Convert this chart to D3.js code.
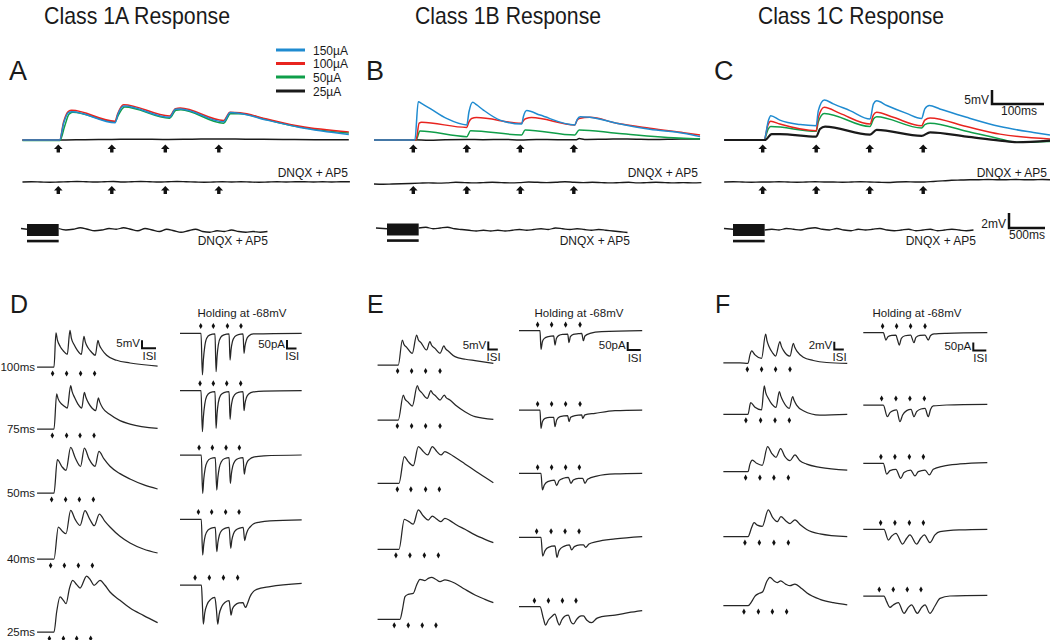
<!DOCTYPE html>
<html><head><meta charset="utf-8">
<script src="https://cdn.jsdelivr.net/npm/d3@7"></script>
<style>body{margin:0;background:#fff} svg{display:block} text{font-family:"Liberation Sans",Arial,Helvetica,sans-serif;fill:#1a1a1a}</style>
</head><body><script>
// ---------------- DATA ----------------
const titles = ["Class 1A Response", "Class 1B Response", "Class 1C Response"];
const topLetters = ["A", "B", "C"];
const bottomLetters = ["D", "E", "F"];
const legendLabels = ["150µA", "100µA", "50µA", "25µA"];
const seriesColors = ["#1f8bd0", "#e8241f", "#0f9e49", "#1a1a1a"];
const rowLabels = ["100ms", "75ms", "50ms", "40ms", "25ms"];
const topStim = [0, 100, 200, 300];          // ms
const trainDur = 440;                         // ms

// top traces: [ms, mV]
const A_150 = [[-67,0],[2.5,0],[10,6],[19,9.8],[25,10.1],[106.5,6.2],[111,8.9],[123,12.1],[208,8.1],[219,11],[228,11.1],[309,6.5],[321.5,9.8],[340,9.5],[390,7.1],[452,4.5],[543,2.0]];
const A_100 = [[-67,0],[2.5,0],[10,6.5],[19,10.2],[25,10.6],[106,6.7],[111,9.4],[122,12.6],[208,8.6],[219,11.2],[228,11.4],[309,7.0],[321,9.9],[340,9.7],[390,7.5],[452,4.9],[543,2.9]];
const A_50 = [[-67,-0.2],[3,-0.2],[12,5],[20,9.2],[27,9.9],[106,6.5],[112,8.8],[124,11.8],[208,7.8],[220,10.6],[229,10.8],[309,6.0],[322,9.4],[340,9.4],[390,7.2],[452,4.6],[543,2.5]];
const A_25 = [[-67,0],[0,0],[50,0.1],[100,0.2],[150,0.3],[200,0.2],[250,0.3],[300,0.4],[350,0.3],[420,0.2],[480,0.1],[543,0.1]];
const B_150 = [[-73.5,0],[3,0],[9.3,13.7],[16,13],[31,11.3],[62,7.7],[100,5.4],[104,10],[111,13.5],[118,12.6],[131,10.7],[162,7.1],[202.5,5.7],[206,8.5],[212,10.5],[237,8.9],[302,5.4],[306,7.2],[312,8.3],[330,8.1],[380,6],[442,3.8],[505,2.4],[536,1.2]];
const B_100 = [[-73.5,0],[5,0],[11,6],[15.5,6.3],[100,4.5],[104,6.5],[109,7.7],[118,8],[202.5,6],[206,7],[211,7.7],[221,8],[302,5.4],[306,7],[310,7.7],[330,8.1],[380,6],[442,4.2],[505,2.6],[536,1.8]];
const B_50 = [[-73.5,0],[5,0],[12.5,3.2],[100,1.2],[107,3.3],[202.5,1.8],[209,3.6],[302,1.8],[310,3.6],[380,2.4],[505,0.6],[536,0.4]];
const B_25 = [[-73.5,0],[0,0.1],[30,-0.1],[60,0.1],[100,0.2],[130,0.1],[170,0.2],[200,0],[230,0.2],[270,0.1],[305,0.1],[310,0.5],[320,0.2],[360,0.3],[400,0.4],[450,0.2],[500,0.4],[536,0.4]];
const C_150 = [[-72,0],[2.5,0],[10.6,6.9],[15,8.7],[32,7.1],[70,5.5],[100,5.1],[104,10.5],[115,14.3],[132,12.9],[163,10.5],[200.6,7.5],[207,12.9],[213,14],[232,12.3],[269,9.5],[297,7.7],[303,11.1],[311.5,12.3],[331,11.1],[381,8.1],[443.6,4.8],[506,2.7],[537,1.8]];
const C_100 = [[-72,0],[2.5,0],[10,5.5],[15,6.7],[32,5.7],[100,3.3],[104,8.1],[115,11.7],[144.5,9.5],[200.6,5.7],[207,9],[213,9.9],[244,8.1],[297,5.1],[303,7.1],[312.8,7.9],[381,4.8],[443.6,2.1],[537,0.4]];
const C_50 = [[-72,0],[2.5,0],[10,3.8],[15,4.8],[100,3.1],[104,6.5],[115,9.5],[200.6,4.8],[207,7.5],[213,8.3],[297,4.3],[303,5.5],[312.8,6],[381,3.1],[443.6,0.4],[475,-0.8],[537,-0.5]];
const C_25 = [[-72,0],[4,0],[16.8,2.1],[32,2.1],[100,1.2],[107,3.9],[116.5,4.8],[200.6,1.9],[213,3.6],[297,1.5],[312.8,2.7],[381,1.2],[443.6,-0.2],[475,-0.8],[537,-0.2]];

// DNQX + AP5 traces (mV), sampled every 17 ms
const A_dnqx = [0,0.1,0,-0.1,0,0.1,0.2,0.1,0,0.1,0.2,0,0.1,0.2,0.1,0,0.1,0.2,0.1,0,-0.1,0,0.1,0,0.1,0,-0.1,0,0.1,0,0.1,0.1,0,0.1,0,0.1,0.1];
const B_dnqx = [0,-0.1,0,0.1,0.2,0.3,0.4,0.3,0.4,0.6,0.5,0.4,0.5,0.6,0.5,0.4,0.5,0.7,0.6,0.5,0.6,0.8,0.6,0.5,0.6,0.5,0.4,0.5,0.6,0.4,0.5,0.6,0.5,0.4,0.5,0.4,0.5];
const C_dnqx = [0,0.1,0,-0.1,0,0,0.1,0,-0.1,0,0.1,0,0,-0.1,0,0.1,0,-0.1,-0.2,0,0.1,0,0,0.2,0.4,0.6,0.7,0.8,0.8,0.9,0.8,0.8,0.9,0.8,0.8,0.9,0.8];
// train traces (mV), every 100 ms after the train
const A_train = [0.2,0,0.1,0.3,0.1,-0.1,0,0.2,0.1,0.3,0.1,-0.1,0.2,0,-0.2,0.1,-0.1,-0.3,-0.1,0.1,-0.2,-0.3,-0.1,-0.2,0,-0.2,-0.3,-0.2,-0.3,-0.2];
const B_train = [0.2,0.3,0.1,0.2,0.3,0.1,0,-0.1,-0.2,-0.1,-0.2,-0.1,-0.2,-0.1,0,-0.1,0,0.1,0,0.2,0.1,0,0.1,0,-0.1,0,-0.1,-0.2,-0.3,-0.4];
const C_train = [0,0.1,0,0.2,0.1,0,0.2,0.3,0.1,0,0.2,0,-0.1,0.1,0,0.1,0.2,0,-0.1,0,0.1,-0.1,0,0.1,-0.1,0,0.1,0,-0.1,0];

// bottom traces: [ISI, mV or pA]
const D_vm = [
 [[-1.21,0],[0,0],[0.14,21.3],[0.24,17],[0.43,13],[0.67,10],[0.95,7.9],[1.14,22.9],[1.24,18],[1.43,14],[1.67,10.4],[1.95,7.9],[2.14,19.2],[2.24,15.5],[2.43,12],[2.67,9.4],[2.95,7.3],[3.14,16.7],[3.24,13.8],[3.43,10.8],[3.76,7.3],[4.48,4.2],[5.43,2.5],[7.4,0.6]],
 [[-1.21,0],[0,0],[0.19,21.9],[0.29,19],[0.48,16.2],[0.71,14.4],[0.95,13.1],[1.19,27.1],[1.29,23.5],[1.48,19.5],[1.71,15.6],[1.98,13.1],[2.17,22.9],[2.27,20],[2.48,16],[2.71,13.1],[2.98,11.5],[3.17,19.4],[3.27,16.8],[3.48,13.1],[4.0,9],[4.71,5.2],[5.43,3.1],[7.4,0.4]],
 [[-1.21,0],[0,0],[0.24,20.8],[0.55,16.7],[0.86,14.2],[1.19,28.5],[1.52,21.9],[1.9,16.7],[2.17,28.1],[2.5,21.3],[2.93,16.7],[3.21,26],[3.57,21.3],[4.0,16.7],[4.71,12.1],[5.43,8.75],[6.38,5.2],[7.4,2.5]],
 [[-1.21,0],[0,0],[0.31,20],[0.6,17.3],[0.86,15.8],[1.19,30.4],[1.52,24.6],[1.86,21],[2.21,30.2],[2.57,24.6],[2.88,20.8],[3.24,28.1],[3.64,23.5],[4.0,20],[4.71,14.2],[5.43,10],[6.38,6.25],[7.4,3.75]],
 [[-1.21,0],[0,0],[0.19,12.5],[0.43,21.9],[0.67,19.8],[0.86,17.7],[1.1,27.1],[1.33,32.3],[1.62,29.6],[1.86,27.5],[2.33,35],[2.62,32.3],[2.86,29.2],[3.29,32.3],[3.64,29.2],[4.0,25],[4.71,19.8],[5.43,15],[6.38,10.4],[7.4,5.8]]
];
const D_im = [
 [[-1.57,0],[-0.05,0],[0.05,-260],[0.12,-167],[0.22,-83],[0.36,-31],[0.6,-10],[0.96,-4],[1.04,-240],[1.11,-146],[1.2,-73],[1.37,-25],[1.61,-10],[1.98,-4],[2.05,-167],[2.12,-104],[2.22,-52],[2.39,-21],[2.65,-8],[2.99,-4],[3.06,-125],[3.13,-79],[3.23,-42],[3.4,-17],[3.73,-4],[7.23,0]],
 [[-1.57,0],[-0.05,0],[0.05,-256],[0.12,-165],[0.22,-85],[0.36,-35],[0.6,-12],[0.96,-6],[1.04,-235],[1.11,-145],[1.2,-75],[1.37,-28],[1.61,-12],[1.98,-6],[2.05,-179],[2.12,-110],[2.22,-56],[2.39,-24],[2.65,-10],[2.99,-6],[3.06,-125],[3.13,-80],[3.23,-44],[3.4,-20],[3.73,-8],[4.5,-3],[7.23,0]],
 [[-1.57,0],[-0.03,0],[0.07,-240],[0.15,-150],[0.25,-85],[0.4,-42],[0.65,-22],[0.98,-17],[1.09,-219],[1.17,-140],[1.27,-80],[1.42,-42],[1.67,-22],[1.98,-17],[2.07,-177],[2.15,-115],[2.25,-68],[2.4,-38],[2.65,-22],[2.99,-17],[3.08,-119],[3.16,-80],[3.26,-50],[3.45,-27],[3.8,-12],[4.5,-5],[7.23,0]],
 [[-1.57,0],[-0.03,0],[0.07,-223],[0.15,-155],[0.26,-100],[0.45,-68],[0.7,-55],[0.98,-50],[1.09,-202],[1.17,-145],[1.28,-98],[1.47,-68],[1.72,-55],[1.98,-50],[2.1,-181],[2.18,-130],[2.3,-90],[2.5,-65],[2.75,-55],[3.0,-50],[3.11,-133],[3.2,-100],[3.32,-70],[3.5,-48],[3.73,-29],[4.2,-18],[4.94,-10],[7.23,-4]],
 [[-1.57,0],[-0.02,0],[0.05,-120],[0.12,-244],[0.22,-175],[0.4,-120],[0.65,-90],[0.95,-77],[1.06,-150],[1.16,-244],[1.26,-185],[1.45,-135],[1.7,-108],[1.98,-98],[2.05,-140],[2.12,-188],[2.22,-150],[2.42,-125],[2.7,-112],[2.99,-110],[3.08,-128],[3.18,-140],[3.3,-118],[3.49,-73],[3.75,-40],[3.98,-27],[4.94,-10],[7.23,10]]
];
const E_vm = [
 [[-1.48,0],[0,0],[0.29,15.6],[0.4,13],[0.6,11],[1.0,7.3],[1.31,18.75],[1.42,16],[1.62,14],[2.02,9.4],[2.26,14.6],[2.37,12.5],[2.62,10.4],[2.98,7.3],[3.26,11.9],[3.37,10.3],[3.62,8.3],[4.05,5.2],[4.8,3.6],[5.48,2.7],[6.79,1.0]],
 [[-1.48,0],[0,0],[0.36,15.6],[0.47,13.2],[0.67,11.5],[1.0,8.75],[1.36,21.5],[1.47,19],[1.67,17.1],[2.07,13.5],[2.33,18.3],[2.44,16.8],[2.67,15],[2.98,12.5],[3.29,15.6],[3.4,14.2],[3.69,12.5],[4.17,8.75],[4.76,5.2],[5.48,2.1],[6.79,0.4]],
 [[-1.48,0],[0.05,0],[0.43,16.7],[0.71,13.5],[1.07,11],[1.43,22.9],[1.79,19.8],[2.1,17.7],[2.43,22.9],[2.76,19.8],[3.05,17.7],[3.33,19.8],[3.69,18.3],[4.05,16.25],[4.76,12.1],[5.48,7.9],[6.19,3.75],[6.79,0.4]],
 [[-1.48,0],[0.05,0],[0.43,18.75],[0.76,17.3],[1.07,15.8],[1.43,24.6],[1.79,20.8],[2.14,18.3],[2.43,20.8],[2.76,18.75],[3.05,17.3],[3.33,19.4],[3.69,17.9],[4.17,15.2],[4.76,12.5],[5.48,9],[6.19,6.25],[6.79,4.2]],
 [[-1.48,0],[0.12,0],[0.29,5.8],[0.48,14.2],[0.71,15.6],[1.07,16.25],[1.31,21.5],[1.55,25],[1.9,24.2],[2.14,25.6],[2.38,26.25],[2.67,25],[2.98,23.5],[3.33,24.6],[4.05,22.5],[4.76,18.75],[5.48,15.2],[6.19,12.5],[6.79,10.4]]
];
const E_im = [
 [[-1.5,0],[0,0],[0.07,-117],[0.17,-69],[0.31,-48],[0.6,-37],[0.98,-33],[1.07,-90],[1.17,-48],[1.36,-29],[1.67,-23],[1.98,-21],[2.07,-75],[2.17,-37],[2.38,-23],[2.74,-19],[2.98,-17],[3.1,-62.5],[3.21,-33],[3.57,-17],[4.4,-6],[7.3,0]],
 [[-1.5,0],[0,0],[0.07,-115],[0.17,-73],[0.36,-52],[0.69,-46],[0.98,-46],[1.07,-104],[1.19,-62.5],[1.43,-42],[1.98,-35],[2.07,-73],[2.19,-46],[2.5,-35],[2.98,-31],[3.05,-52],[3.21,-31],[3.93,-21],[5.36,-4],[7.3,0]],
 [[-1.5,0],[0.07,0],[0.17,-104],[0.31,-73],[0.55,-52],[1.02,-42],[1.19,-77],[1.36,-46],[1.67,-31],[2.02,-25],[2.21,-62.5],[2.38,-42],[2.74,-31],[3.05,-31],[3.21,-62.5],[3.4,-37.5],[4.05,-17],[5.36,-4],[7.3,0]],
 [[-1.5,0],[0.07,0],[0.19,-117],[0.36,-83],[0.6,-62.5],[1.07,-54],[1.21,-125],[1.36,-83],[1.67,-58],[2.1,-48],[2.26,-79],[2.45,-58],[2.86,-48],[3.1,-48],[3.26,-62.5],[3.5,-42],[4.05,-27],[5.36,-10],[7.3,4]],
 [[-1.5,0],[0,0],[0.24,-73],[0.4,-115],[0.6,-83],[0.88,-58],[1.07,-46],[1.26,-94],[1.38,-115],[1.55,-83],[1.79,-58],[2.02,-52],[2.21,-94],[2.38,-108],[2.62,-79],[2.93,-58],[3.1,-58],[3.33,-83],[3.69,-100],[4.05,-73],[4.4,-62.5],[5.36,-52],[6.31,-37.5],[7.3,-25]]
];
const F_vm = [
 [[-1.71,0.1],[-0.52,0.1],[0.05,0],[0.19,2.1],[0.31,3.1],[0.55,2.1],[1.02,1.25],[1.31,7.3],[1.41,5.6],[1.55,4.2],[1.79,2.7],[2.02,1.8],[2.33,5.4],[2.43,4.3],[2.57,3.3],[3.05,1.8],[3.29,5.0],[3.39,4.0],[3.57,2.9],[4.0,1.5],[4.71,0.7],[5.67,0.2],[7.14,0]],
 [[-1.71,0],[0.05,0],[0.24,2.9],[0.55,1.75],[1.02,1.1],[1.21,7.1],[1.31,5.5],[1.5,4.0],[1.74,2.6],[2.05,1.75],[2.29,5.7],[2.39,4.6],[2.57,3.2],[3.0,1.5],[3.24,4.4],[3.34,3.5],[3.52,2.3],[4.0,0.9],[5.19,-0.2],[7.14,0]],
 [[-1.71,0],[0.05,0],[0.19,1.9],[0.36,2.9],[0.67,2.1],[1.07,1.6],[1.45,6.25],[1.74,4.6],[2.05,3.6],[2.38,5.8],[2.69,3.75],[3.05,2.75],[3.4,4.2],[3.76,2.75],[4.24,1.9],[5.19,1.1],[7.14,0.4]],
 [[-1.71,0],[0.05,0],[0.31,2.3],[0.48,3.5],[0.71,2.9],[1.07,2.6],[1.5,6.7],[1.81,4.8],[2.14,3.75],[2.4,5.0],[2.74,4.0],[3.05,3.3],[3.4,4.2],[3.81,2.9],[4.24,1.8],[5.19,0.7],[7.14,0]],
 [[-1.71,0],[0.05,0],[0.31,1.0],[0.55,2.4],[0.86,3.1],[1.1,3.5],[1.38,6.0],[1.62,7.1],[1.9,6.25],[2.14,5.8],[2.38,6.2],[2.74,5.4],[3.05,5.0],[3.4,5.4],[3.88,4.3],[4.24,3.25],[5.19,1.6],[6.14,0.75],[7.14,0.2]]
];
const F_im = [
 [[-1.43,0],[0,0],[0.19,-46],[0.33,-25],[0.6,-17],[0.9,-15],[1.02,-46],[1.14,-77],[1.29,-35],[1.55,-19],[1.95,-15],[2.19,-62.5],[2.33,-29],[2.62,-17],[2.98,-15],[3.21,-46],[3.38,-17],[3.62,-8],[4.52,-4],[7.43,0]],
 [[-1.43,0],[0,0],[0.29,-73],[0.48,-48],[0.71,-35],[0.95,-31],[1.19,-104],[1.38,-62.5],[1.67,-35],[1.98,-27],[2.19,-73],[2.38,-42],[2.69,-25],[2.98,-21],[3.21,-73],[3.38,-27],[3.57,-6],[4.52,0],[7.43,4]],
 [[-1.43,0],[0,0],[0.24,-67],[0.48,-46],[0.9,-37.5],[1.24,-94],[1.48,-58],[1.95,-42],[2.26,-79],[2.5,-52],[2.98,-42],[3.29,-73],[3.57,-37.5],[4.29,-17],[5.48,-4],[7.43,4]],
 [[-1.43,0],[0.05,0],[0.36,-67],[0.6,-42],[0.9,-25],[1.38,-92],[1.67,-56],[1.9,-35],[2.38,-92],[2.67,-56],[2.93,-35],[3.33,-83],[3.69,-35],[4.05,-15],[5.48,-4],[7.43,0]],
 [[-1.43,0],[0.05,0],[0.24,-35],[0.48,-71],[0.71,-56],[1.07,-42],[1.48,-108],[1.79,-71],[2.02,-56],[2.43,-108],[2.74,-71],[2.98,-56],[3.33,-108],[3.69,-62.5],[4.05,-15],[4.76,0],[7.43,4]]
];
// stimulus times (ISI units)
const D_vm_stim = [[-0.1,0.9,1.9,2.9],[-0.12,0.9,1.86,2.86],[-0.17,0.83,1.81,2.81],[-0.24,0.74,1.74,2.74],[-0.33,0.67,1.62,2.62]];
const D_im_stim = [[-0.07,0.84,1.86,2.84],[-0.12,0.84,1.81,2.82],[-0.19,0.77,1.76,2.72],[-0.24,0.72,1.73,2.7],[-0.48,0.55,1.57,2.6]];
const E_vm_stim = [[-0.05,0.95,1.95,2.98],[-0.07,0.95,1.95,2.98],[-0.07,0.9,1.95,2.93],[-0.17,0.83,1.86,2.86],[-0.29,0.71,1.71,2.69]];
const E_im_stim = [[-0.17,0.83,1.83,2.86],[-0.17,0.83,1.83,2.86],[-0.17,0.83,1.83,2.81],[-0.24,0.79,1.79,2.79],[-0.4,0.6,1.6,2.57]];
const F_vm_stim = [[0,1.02,2.02,3.05],[-0.1,0.95,1.98,3.0],[-0.12,0.9,1.9,2.93],[-0.17,0.86,1.9,2.93],[-0.24,0.79,1.79,2.81]];
const F_im_stim = [[-0.05,0.95,1.95,2.98],[-0.12,0.9,1.9,2.93],[-0.17,0.83,1.86,2.86],[-0.19,0.83,1.86,2.86],[-0.29,0.71,1.71,2.69]];

// ---------------- DRAWING ----------------
const svg = d3.select("body").append("svg").attr("width", 1050).attr("height", 640);
const lin = (origin, px) => d3.scaleLinear().domain([0, 1]).range([origin, origin + px]);
const mkLine = (xs, ys, curve) => d3.line().x(d => xs(d[0])).y(d => ys(d[1])).curve(curve || d3.curveMonotoneX);
const series = (vals, t0, step) => vals.map((v, i) => [t0 + i * step, v]);
const txt = (x, y, s, size, anchor) => svg.append("text").attr("x", x).attr("y", y).attr("font-size", size).attr("text-anchor", anchor || "start").text(s);
const diamond = d3.symbol().type(d3.symbolDiamond).size(11);

function trace(data, xs, ys, color, w) {
  svg.append("path").datum(data).attr("d", mkLine(xs, ys)).attr("fill", "none")
    .attr("stroke", color).attr("stroke-width", w).attr("stroke-linejoin", "round");
}
function upArrow(x, y) {
  svg.append("path").attr("fill", "#111")
    .attr("d", `M${x},${y} L${x+4.3},${y+4.6} L${x+1.7},${y+4.6} L${x+1.7},${y+8} L${x-1.7},${y+8} L${x-1.7},${y+4.6} L${x-4.3},${y+4.6} Z`);
}
function scaleBar(x, yTop, yBot, xEnd, w) {
  svg.append("path").attr("d", `M${x},${yTop} L${x},${yBot} L${xEnd},${yBot}`)
    .attr("fill", "none").attr("stroke", "#111").attr("stroke-width", w);
}

// titles + letters
const titleX = [137, 508, 851];
titles.forEach((t, i) => txt(titleX[i], 24, t, 24, "middle").attr("textLength", 186).attr("lengthAdjust", "spacingAndGlyphs"));
const topLetterX = [9, 366, 714];
topLetters.forEach((l, i) => txt(topLetterX[i], 80, l, 27));
bottomLetters.forEach((l, i) => txt(topLetterX[i] + 1, 313, l, 25));

// legend
legendLabels.forEach((l, i) => {
  const y = [50, 63.5, 77, 91][i];
  svg.append("line").attr("x1", 276).attr("x2", 305).attr("y1", y).attr("y2", y)
    .attr("stroke", seriesColors[i]).attr("stroke-width", 3);
  txt(313, y + 4.5, l, 12);
});

// top panels
const topPanels = [
  {x0: 58.3, tr: [A_150, A_100, A_50, A_25], dn: A_dnqx, dnT0: -67, dnBase: 182, dnTextX: 348, train: A_train, trainX0: 27, trainStart: -83, trainBase: 230, trainEndX: 268},
  {x0: 413.3, tr: [B_150, B_100, B_50, B_25], dn: B_dnqx, dnT0: -73.5, dnBase: 184, dnTextX: 698, train: B_train, trainX0: 387, trainStart: -153, trainBase: 229.5, trainEndX: 630},
  {x0: 762.7, tr: [C_150, C_100, C_50, C_25], dn: C_dnqx, dnT0: -72, dnBase: 182, dnTextX: 1047, train: C_train, trainX0: 733, trainStart: -125, trainBase: 230, trainEndX: 976}
];
topPanels.forEach((p, pi) => {
  const xs = lin(p.x0, 0.535);             // px per ms
  const ys = d3.scaleLinear().domain([0, 1]).range([140, 137.2]); // 2.8 px per mV
  const order = pi === 2 ? [2, 1, 0, 3] : [3, 2, 1, 0];
  order.forEach(k => trace(p.tr[k], xs, ys, seriesColors[k], (pi === 2 && k === 3) ? 2.2 : 1.5));
  topStim.forEach(t => upArrow(xs(t), 144.5));
  // DNQX row
  const ys2 = d3.scaleLinear().domain([0, 1]).range([p.dnBase, p.dnBase - 2.8]);
  trace(series(p.dn, p.dnT0, 17), xs, ys2, "#1a1a1a", 1.4);
  topStim.forEach(t => upArrow(xs(t), 186));
  txt(p.dnTextX, 177, "DNQX + AP5", 12, "end");
  // train row
  const xt = lin(p.trainX0, 0.072);        // px per ms
  const yt = d3.scaleLinear().domain([0, 1]).range([p.trainBase, p.trainBase - 7.5]);
  const pre = [[p.trainStart, 0.2], [0, 0.1]];
  trace(pre, xt, yt, "#1a1a1a", 1.3);
  trace(series(p.train, trainDur, 100), xt, yt, "#1a1a1a", 1.3);
  svg.append("rect").attr("x", xt(0)).attr("width", xt(trainDur) - xt(0))
    .attr("y", yt(0.8)).attr("height", yt(-0.8) - yt(0.8)).attr("fill", "#141414");
  svg.append("rect").attr("x", xt(0)).attr("width", xt(trainDur) - xt(0))
    .attr("y", yt(-1.3)).attr("height", yt(-1.65) - yt(-1.3)).attr("fill", "#141414");
  txt(p.trainEndX, 245, "DNQX + AP5", 12, "end");
});
// top scale bars (panel C)
scaleBar(992, 90, 104, 992 + 100 * 0.52, 2.5);
txt(989, 104, "5mV", 12, "end");
txt(1019, 115, "100ms", 12, "middle");
scaleBar(1009, 213, 228, 1009 + 500 * 0.072, 2.5);
txt(1006, 228, "2mV", 12, "end");
txt(1027, 239, "500ms", 12, "middle");

// bottom panels
const bottom = [
  {x0: 54, isi: 14, bases: [367, 429, 493, 559, 632], data: D_vm, stim: D_vm_stim, py: 1.6, dot: 6.5,
   bar: {x: 142, y1: 340.3, y2: 348.3, len: 14, lab: "5mV"}},
  {x0: 201.7, isi: 13.83, bases: [333.3, 390.7, 455, 519.3, 585], data: D_im, stim: D_im_stim, py: 0.16, dot: -7.3,
   bar: {x: 287, y1: 340, y2: 348.5, len: 9.5, lab: "50pA"}},
  {x0: 398.3, isi: 14, bases: [365, 420, 483.3, 549.3, 619.3], data: E_vm, stim: E_vm_stim, py: 1.6, dot: 6,
   bar: {x: 488.3, y1: 341.5, y2: 349.5, len: 9.5, lab: "5mV"}},
  {x0: 540, isi: 14, bases: [330.7, 410, 473.3, 537.3, 606.7], data: E_im, stim: E_im_stim, py: 0.16, dot: -6,
   bar: {x: 627.7, y1: 342, y2: 350, len: 13, lab: "50pA"}},
  {x0: 747.3, isi: 14, bases: [363.3, 414.3, 471.7, 536.7, 605.7], data: F_vm, stim: F_vm_stim, py: 4, dot: 6,
   bar: {x: 834.3, y1: 341.7, y2: 349.5, len: 9.5, lab: "2mV"}},
  {x0: 883.3, isi: 14, bases: [332.7, 405, 463.3, 529.3, 596], data: F_im, stim: F_im_stim, py: 0.16, dot: -6.5,
   bar: {x: 973.3, y1: 342.5, y2: 350.5, len: 13, lab: "50pA"}}
];
bottom.forEach((b, bi) => {
  const xs = lin(b.x0, b.isi);
  b.data.forEach((row, ri) => {
    const base = b.bases[ri];
    const ys = d3.scaleLinear().domain([0, 1]).range([base, base - b.py]);
    trace(row, xs, ys, "#262626", 1.25);
    b.stim[ri].forEach(t => svg.append("path").attr("d", diamond)
      .attr("transform", `translate(${xs(t)},${base + b.dot})`).attr("fill", "#111"));
    if (bi === 0) txt(35, base + 4, rowLabels[ri], 11.5, "end");
  });
  const bar = b.bar;
  scaleBar(bar.x, bar.y1, bar.y2, bar.x + bar.len, 2);
  txt(bar.x - 2, bar.y2 - 1, bar.lab, 11.5, "end");
  txt(bar.x + bar.len / 2 + 0.5, bar.y2 + 11.5, "ISI", 11.5, "middle");
});
// Holding labels
[242, 579, 917].forEach(x => txt(x, 317, "Holding at -68mV", 11.5, "middle"));
</script></body></html>
